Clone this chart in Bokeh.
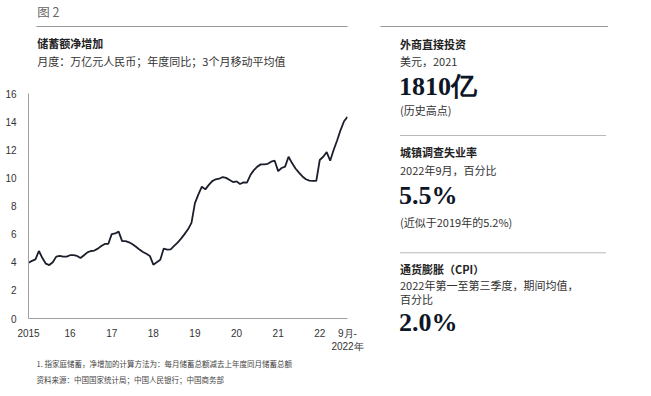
from bokeh.plotting import figure
from bokeh.models import Range1d, FixedTicker
from bokeh.layouts import row, column
from bokeh.core.properties import value
from bokeh.embed import file_html
from bokeh.resources import INLINE

# ---- data: household savings net increase, trillion RMB, monthly (Jan 2015 - Sep 2022)
s2015 = [3.97, 4.10, 4.20, 4.80, 4.30, 3.90, 3.80, 4.00, 4.40, 4.45, 4.40, 4.40]
s2016 = [4.50, 4.50, 4.45, 4.30, 4.50, 4.70, 4.80, 4.83, 4.97, 5.16, 5.30, 5.30]
s2017 = [6.00, 6.05, 6.18, 5.50, 5.50, 5.42, 5.28, 5.10, 4.90, 4.73, 4.60, 4.45]
s2018 = [3.83, 4.00, 4.17, 4.97, 4.90, 4.92, 5.16, 5.40, 5.68, 6.00, 6.34, 6.80]
s2019 = [8.20, 8.83, 9.37, 9.18, 9.50, 9.77, 9.90, 9.94, 10.06, 10.00, 9.85, 9.70]
s2020 = [9.75, 9.56, 9.68, 9.66, 10.20, 10.55, 10.80, 10.96, 10.96, 11.00, 11.15, 11.22]
s2021 = [10.48, 10.70, 10.80, 11.50, 11.05, 10.67, 10.37, 10.10, 9.90, 9.80, 9.78, 9.78]
s2022 = [11.27, 11.50, 11.83, 11.22, 11.98, 12.66, 13.40, 14.03, 14.34]

x_tick_labels = ["2015", "16", "17", "18", "19", "20", "21", "22", "9月-\n2022年"]
y_ticks = [0, 2, 4, 6, 8, 10, 12, 14, 16]

title_fig = "图 2"
chart_title = "储蓄额净增加"
chart_subtitle = "月度：万亿元人民币；年度同比；3个月移动平均值"
footnote = "1. 指家庭储蓄，净增加的计算方法为：每月储蓄总额减去上年度同月储蓄总额"
source = "资料来源：中国国家统计局；中国人民银行；中国商务部"

panel_titles = ["外商直接投资", "城镇调查失业率", "通货膨胀（CPI）"]
panel_subs = [["美元，2021"], ["2022年9月，百分比"], ["2022年第一至第三季度，期间均值，", "百分比"]]
panel_values = ["1810亿", "5.5%", "2.0%"]
panel_notes = ["(历史高点)", "(近似于2019年的5.2%)", ""]

savings = s2015 + s2016 + s2017 + s2018 + s2019 + s2020 + s2021 + s2022
months = list(range(len(savings)))
NX = len(savings) - 1
x_ticks = [0, 12, 24, 36, 48, 60, 72, 84, NX]

CJK = "Noto Sans CJK SC"
SANS = "Liberation Sans"
SERIF = "Liberation Serif"

OX, OY = 2.5, 1.0          # observed page offset of the canvas
WL, WR = 380, 255          # left column / right panel widths
HH, HC, HF = 80, 278, 27   # header / chart / footer heights
HT = HH + HC + HF


def text_fig(w, h):
    f = figure(width=w, height=h, output_backend="svg", toolbar_location=None,
               x_range=Range1d(0, w), y_range=Range1d(h, 0),
               x_axis_type=None, y_axis_type=None,
               min_border=0, min_border_left=0, min_border_right=0,
               min_border_top=0, min_border_bottom=0)
    f.outline_line_color = None
    f.grid.grid_line_color = None
    f.background_fill_color = "white"
    f.border_fill_color = "white"
    return f


def put(f, ox, oy, s, sx, sy, size, bold=False, font=CJK, color="#222222"):
    f.text(x=[sx - OX - ox], y=[sy - OY - oy], text=[s], text_font=value(font),
           text_font_size=value(f"{size}px"), text_font_style="bold" if bold else "normal",
           text_color=color, text_align="left", text_baseline="middle")


def hline(f, ox, oy, sx0, sx1, sy, color="#b8b8b8"):
    f.segment(x0=[sx0 - OX - ox], y0=[sy - OY - oy], x1=[sx1 - OX - ox], y1=[sy - OY - oy],
              line_color=color, line_width=1)


# ---- header (left)
head = text_fig(WL, HH)
put(head, 0, 0, title_fig, 13, 12, 12.5, color="#666666")
hline(head, 0, 0, 12, 700, 27, color="#9a9a9a")
put(head, 0, 0, chart_title, 13, 43.5, 11, bold=True)
put(head, 0, 0, "1", 79.5, 41, 7, font=SANS)
put(head, 0, 0, chart_subtitle, 13, 61, 11, color="#333333")

# ---- chart
FL, FR, FT = 28, 33, 13
FB_ = HC - FT - 225
p = figure(width=WL, height=HC, output_backend="svg", toolbar_location=None,
           x_range=Range1d(0, NX), y_range=Range1d(0, 16),
           min_border_left=FL, min_border_right=FR, min_border_top=FT, min_border_bottom=FB_)
p.outline_line_color = None
p.grid.grid_line_color = None
p.background_fill_color = "white"
p.border_fill_color = "white"
p.line(months, savings, line_color="#1b1e2b", line_width=1.8)
p.xaxis.ticker = FixedTicker(ticks=x_ticks)
p.xaxis.major_label_overrides = {t: l for t, l in zip(x_ticks, x_tick_labels)}
p.yaxis.ticker = FixedTicker(ticks=y_ticks)
for ax in (p.xaxis, p.yaxis):
    ax.axis_line_color = "#a0a0a0"
    ax.axis_line_width = 1
    ax.major_tick_line_color = None
    ax.minor_tick_line_color = None
    ax.major_label_text_font = SANS
    ax.major_label_text_font_size = "10px"
    ax.major_label_text_color = "#333333"
p.xaxis.major_label_standoff = 3
p.yaxis.major_label_standoff = 6

# ---- footer (left)
foot = text_fig(WL, HF)
put(foot, 0, HH + HC, footnote, 12, 364, 7.5, color="#444444")
put(foot, 0, HH + HC, source, 12, 380, 7.5, color="#444444")

# ---- right panel
side = text_fig(WR, HT)
hline(side, WL, 0, 300, 610, 27, color="#9a9a9a")
ys = [(44, [61.7], 86.7, 110.7), (152.3, [170], 196, 222.7), (269.3, [285.7, 299.5], 322.7, None)]
for i, (ty, sys_, vy, ny) in enumerate(ys):
    put(side, WL, 0, panel_titles[i], 402, ty, 11, bold=True)
    for s, sy in zip(panel_subs[i], sys_):
        put(side, WL, 0, s, 402, sy, 11, color="#333333")
    put(side, WL, 0, panel_values[i], 401, vy, 26, bold=True, font=SERIF, color="#0d1626")
    if ny is not None:
        put(side, WL, 0, panel_notes[i], 402, ny, 11, color="#333333")
hline(side, WL, 0, 402, 608, 136)
hline(side, WL, 0, 402, 608, 253.3)

layout = row(column(head, p, foot, spacing=0), side, spacing=0)
open("out.html", "w").write(file_html(layout, INLINE))
